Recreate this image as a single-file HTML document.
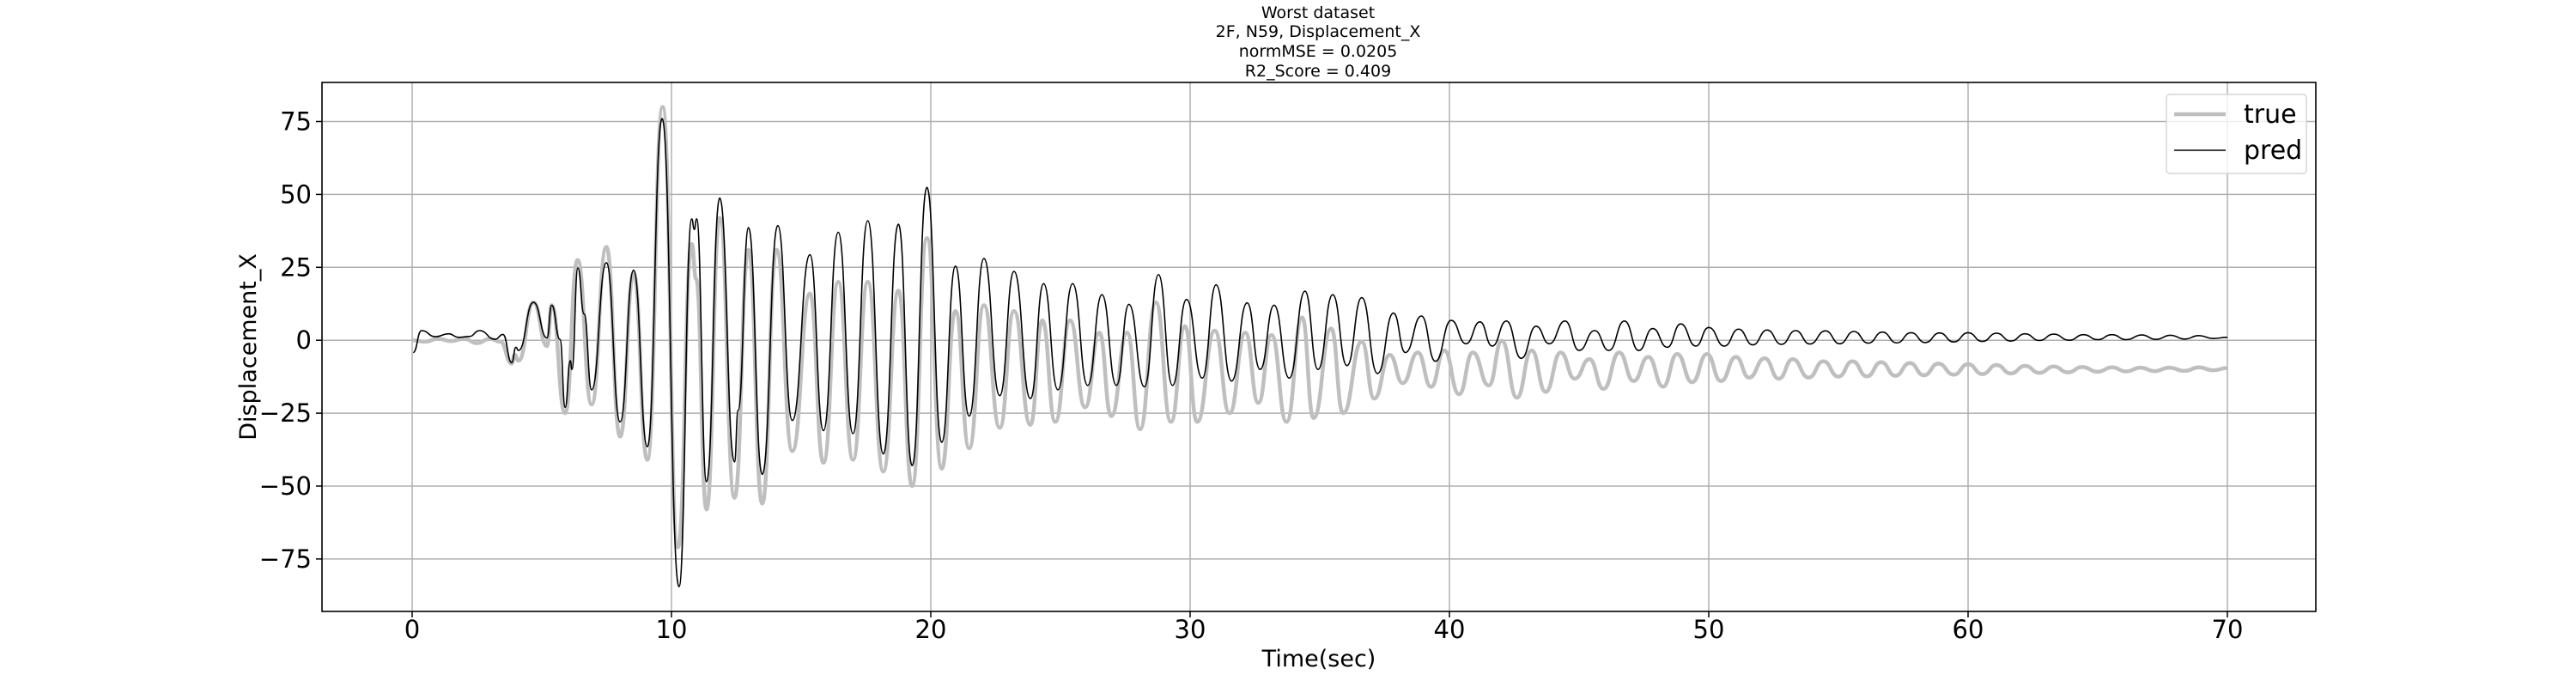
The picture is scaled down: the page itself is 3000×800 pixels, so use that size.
<!DOCTYPE html>
<html><head><meta charset="utf-8"><style>
html,body{margin:0;padding:0;background:#fff}
svg{display:block}
text{font-family:"DejaVu Sans","Liberation Sans",sans-serif;fill:#000}
</style></head><body>
<svg id="chart" width="3000" height="800" viewBox="0 0 3000 800" xmlns="http://www.w3.org/2000/svg">
<g font-size="19" text-anchor="middle">
<text x="1535" y="21">Worst dataset</text>
<text x="1535" y="43">2F, N59, Displacement_X</text>
<text x="1535" y="66">normMSE = 0.0205</text>
<text x="1535" y="89">R2_Score = 0.409</text>
</g>
<g id="grid"></g>
<g id="series"></g>
<rect x="375" y="96" width="2322" height="616" fill="none" stroke="#000" stroke-width="1.6"/>
<g id="ticks"></g>
<text x="1536" y="776" font-size="27" text-anchor="middle">Time(sec)</text>
<text x="0" y="0" font-size="27" text-anchor="middle" transform="translate(298,404) rotate(-90)">Displacement_X</text>
<g>
<rect x="2523" y="110" width="163" height="92" rx="4" fill="#fff" fill-opacity="0.8" stroke="#d6d6d6" stroke-width="1.5"/>
<line x1="2532" y1="133" x2="2592" y2="133" stroke="#bfbfbf" stroke-width="4.5"/>
<text x="2613" y="143" font-size="30">true</text>
<line x1="2532" y1="175" x2="2592" y2="175" stroke="#000" stroke-width="1.5"/>
<text x="2613" y="185" font-size="30">pred</text>
</g>
</svg>
<script>
const xTicks=[0,10,20,30,40,50,60,70];
const yTicks=[75,50,25,0,-25,-50,-75];
const yTickLabels=["75","50","25","0","\u221225","\u221250","\u221275"];
const predT=[0.04,0.36,0.9,1.4,1.8,2.2,2.6,3.2,3.5,3.84,4.0,4.1,4.68,5.2,5.38,5.7,5.9,6.1,6.16,6.39,6.63,6.92,7.49,8.02,8.54,9.07,9.64,10.29,10.78,10.88,10.97,11.35,11.86,12.43,12.57,12.97,13.5,14.1,14.66,15.34,15.86,16.43,17.0,17.57,18.17,18.75,19.28,19.85,20.42,20.95,21.48,22.05,22.66,23.21,23.84,24.35,24.9,25.47,26.05,26.6,27.16,27.64,28.24,28.78,29.32,29.86,30.47,31.0,31.6,32.2,32.7,33.24,33.82,34.43,34.93,35.5,36.05,36.62,37.23,37.84,38.3,38.92,39.46,40.07,40.64,41.18,41.65,42.2,42.77,43.34,43.85,44.46,45.0,45.6,46.15,46.75,47.3,47.84,48.4,48.92,49.5,50.0,50.6,51.15,51.7,52.25,52.8,53.35,53.9,54.5,55.05,55.6,56.15,56.7,57.25,57.8,58.35,58.9,59.45,60.0,60.55,61.1,61.65,62.2,62.75,63.3,63.9,64.45,65.0,65.55,66.1,66.7,67.25,67.8,68.35,68.9,69.45,70.0];
const predV=[-4.2,3.3,1.2,2.2,1.0,1.3,3.3,0.3,2.0,-7.7,-2.4,-3.5,13,0.8,12,0.3,-23,-7,-10,24.8,9,-17,26.6,-28,24,-36.5,76,-84.5,41.6,38,41.6,-48.5,48.8,-41.7,-24,38.6,-46,39.3,-27.5,29.3,-31,37,-32,41,-39,39.8,-43,52.4,-35,25.4,-26,28,-19,23.6,-20,19.4,-17,19.4,-15.5,15.6,-15.5,12.3,-16,22.5,-15.5,14,-13,19,-14,12.8,-10,12,-13,16.8,-10,15.6,-8.7,14.6,-11.4,9.3,-4.2,8.3,-7.2,6.8,-1.2,6.3,-2,6.6,-6.2,4.8,-1.2,6.6,-3.5,3.3,-3.5,6.6,-3.5,4,-2.4,5.6,-2,4.4,-2,3.8,-1.6,3.5,-1.4,3.3,-1.3,3.2,-1.2,3.0,-1.0,2.8,-0.9,2.6,-0.8,2.5,-0.6,2.6,-0.4,2.4,-0.3,2.2,-0.1,2.1,0,1.9,0.2,1.9,0.2,1.8,0.3,1.7,0.4,1.6,0.6,1.0];
const trueT=[0,0.5,1.0,1.5,2.0,2.5,3.0,3.4,3.84,3.95,4.1,4.68,5.2,5.38,5.9,6.38,6.92,7.49,8.02,8.54,9.07,9.66,10.25,10.78,10.95,11.35,11.86,12.43,12.97,13.5,14.05,14.66,15.34,15.86,16.43,17.0,17.57,18.17,18.75,19.28,19.85,20.42,20.95,21.48,22.05,22.66,23.21,23.84,24.3,24.8,25.37,25.95,26.5,26.96,27.57,28.07,28.68,29.26,29.8,30.27,30.95,31.52,32.13,32.63,33.14,33.72,34.32,34.76,35.44,35.9,36.62,37.1,37.7,38.2,38.78,39.29,39.8,40.37,40.9,41.52,42.02,42.6,43.17,43.71,44.29,44.83,45.4,45.94,46.55,47.1,47.67,48.24,48.78,49.36,49.93,50.47,51.05,51.55,52.16,52.7,53.24,53.85,54.42,55.0,55.54,56.1,56.65,57.2,57.75,58.3,58.85,59.45,60.0,60.55,61.1,61.65,62.2,62.75,63.3,63.85,64.4,65.0,65.55,66.1,66.65,67.2,67.75,68.35,68.9,69.45,70.0];
const trueV=[0,-0.5,0.5,-0.3,0.5,-1,0.5,-0.5,-8,-5,-7,13,-2,12,-25,27.5,-22,32,-33,23,-41,80,-71,33,21,-58,42,-54,31,-56,31,-38,16,-42,20,-41,20,-45,17,-50,35,-44,10,-37,12,-30,10,-29,6.8,-28,6.8,-23,2.6,-26,2.6,-30.5,13,-28,4.8,-28,3.3,-25,2.6,-21.5,1.8,-28,7.8,-26.7,4,-25,-0.5,-20,-5,-14.7,-4.2,-16,-3.5,-18.5,-4.2,-15.5,-0.2,-19.7,-3.5,-17.7,-4.2,-13.2,-6.5,-16.7,-4.2,-14,-5.7,-15.9,-4.7,-14.4,-4.7,-14,-5.7,-12.8,-6.2,-13.2,-6.5,-12.8,-7.2,-12.5,-7.2,-12.4,-7.5,-12.2,-7.8,-12,-8,-11.8,-8.2,-11.6,-8.5,-11.4,-8.8,-11.2,-9,-11,-9.2,-10.8,-9.3,-10.7,-9.4,-10.6,-9.4,-10.5,-9.3,-10.3,-9.5];
const X0=480,XS=30.2,Y0=396.2,YS=3.396;
function sx(t){return X0+t*XS;}
function sy(v){return Y0-v*YS;}
const NS="http://www.w3.org/2000/svg";
function mk(tag,attrs,parent){const e=document.createElementNS(NS,tag);for(const k in attrs)e.setAttribute(k,attrs[k]);parent.appendChild(e);return e;}
const grid=document.getElementById('grid'),ticks=document.getElementById('ticks'),series=document.getElementById('series');
xTicks.forEach(t=>{
  const g=mk('line',{x1:sx(t),x2:sx(t),y1:96,y2:712,stroke:'#b0b0b0','stroke-width':1.5},grid);
  
  
  const tk=mk('line',{x1:sx(t),x2:sx(t),y1:712,y2:719,stroke:'#000','stroke-width':1.5},ticks);
  
  
  const lb=mk('text',{x:sx(t),y:743,'font-size':29,'text-anchor':'middle'},ticks);
  lb.textContent=String(t);
  
  
});
yTicks.forEach((v,i)=>{
  const g=mk('line',{x1:375,x2:2697,y1:sy(v),y2:sy(v),stroke:'#b0b0b0','stroke-width':1.5},grid);
  
  
  const tk=mk('line',{x1:368,x2:375,y1:sy(v),y2:sy(v),stroke:'#000','stroke-width':1.5},ticks);
  
  
  const lb=mk('text',{x:363,y:sy(v)+10,'font-size':29,'text-anchor':'end'},ticks);
  lb.textContent=yTickLabels[i];
  
  
});
function pathFor(T,V){
  let d='M'+sx(T[0]).toFixed(1)+','+sy(V[0]).toFixed(1);
  for(let i=1;i<T.length;i++){
    const x0=sx(T[i-1]),x1=sx(T[i]),y0=sy(V[i-1]),y1=sy(V[i]),h=(x1-x0)/2;
    d+='C'+(x0+h).toFixed(1)+','+y0.toFixed(1)+' '+(x1-h).toFixed(1)+','+y1.toFixed(1)+' '+x1.toFixed(1)+','+y1.toFixed(1);
  }
  return d;
}
const pt=mk('path',{d:pathFor(trueT,trueV),fill:'none',stroke:'#bfbfbf','stroke-width':4.5,'stroke-linejoin':'round'},series);


const pp=mk('path',{d:pathFor(predT,predV),fill:'none',stroke:'#000','stroke-width':1.6,'stroke-linejoin':'round'},series);


</script>
</body></html>
